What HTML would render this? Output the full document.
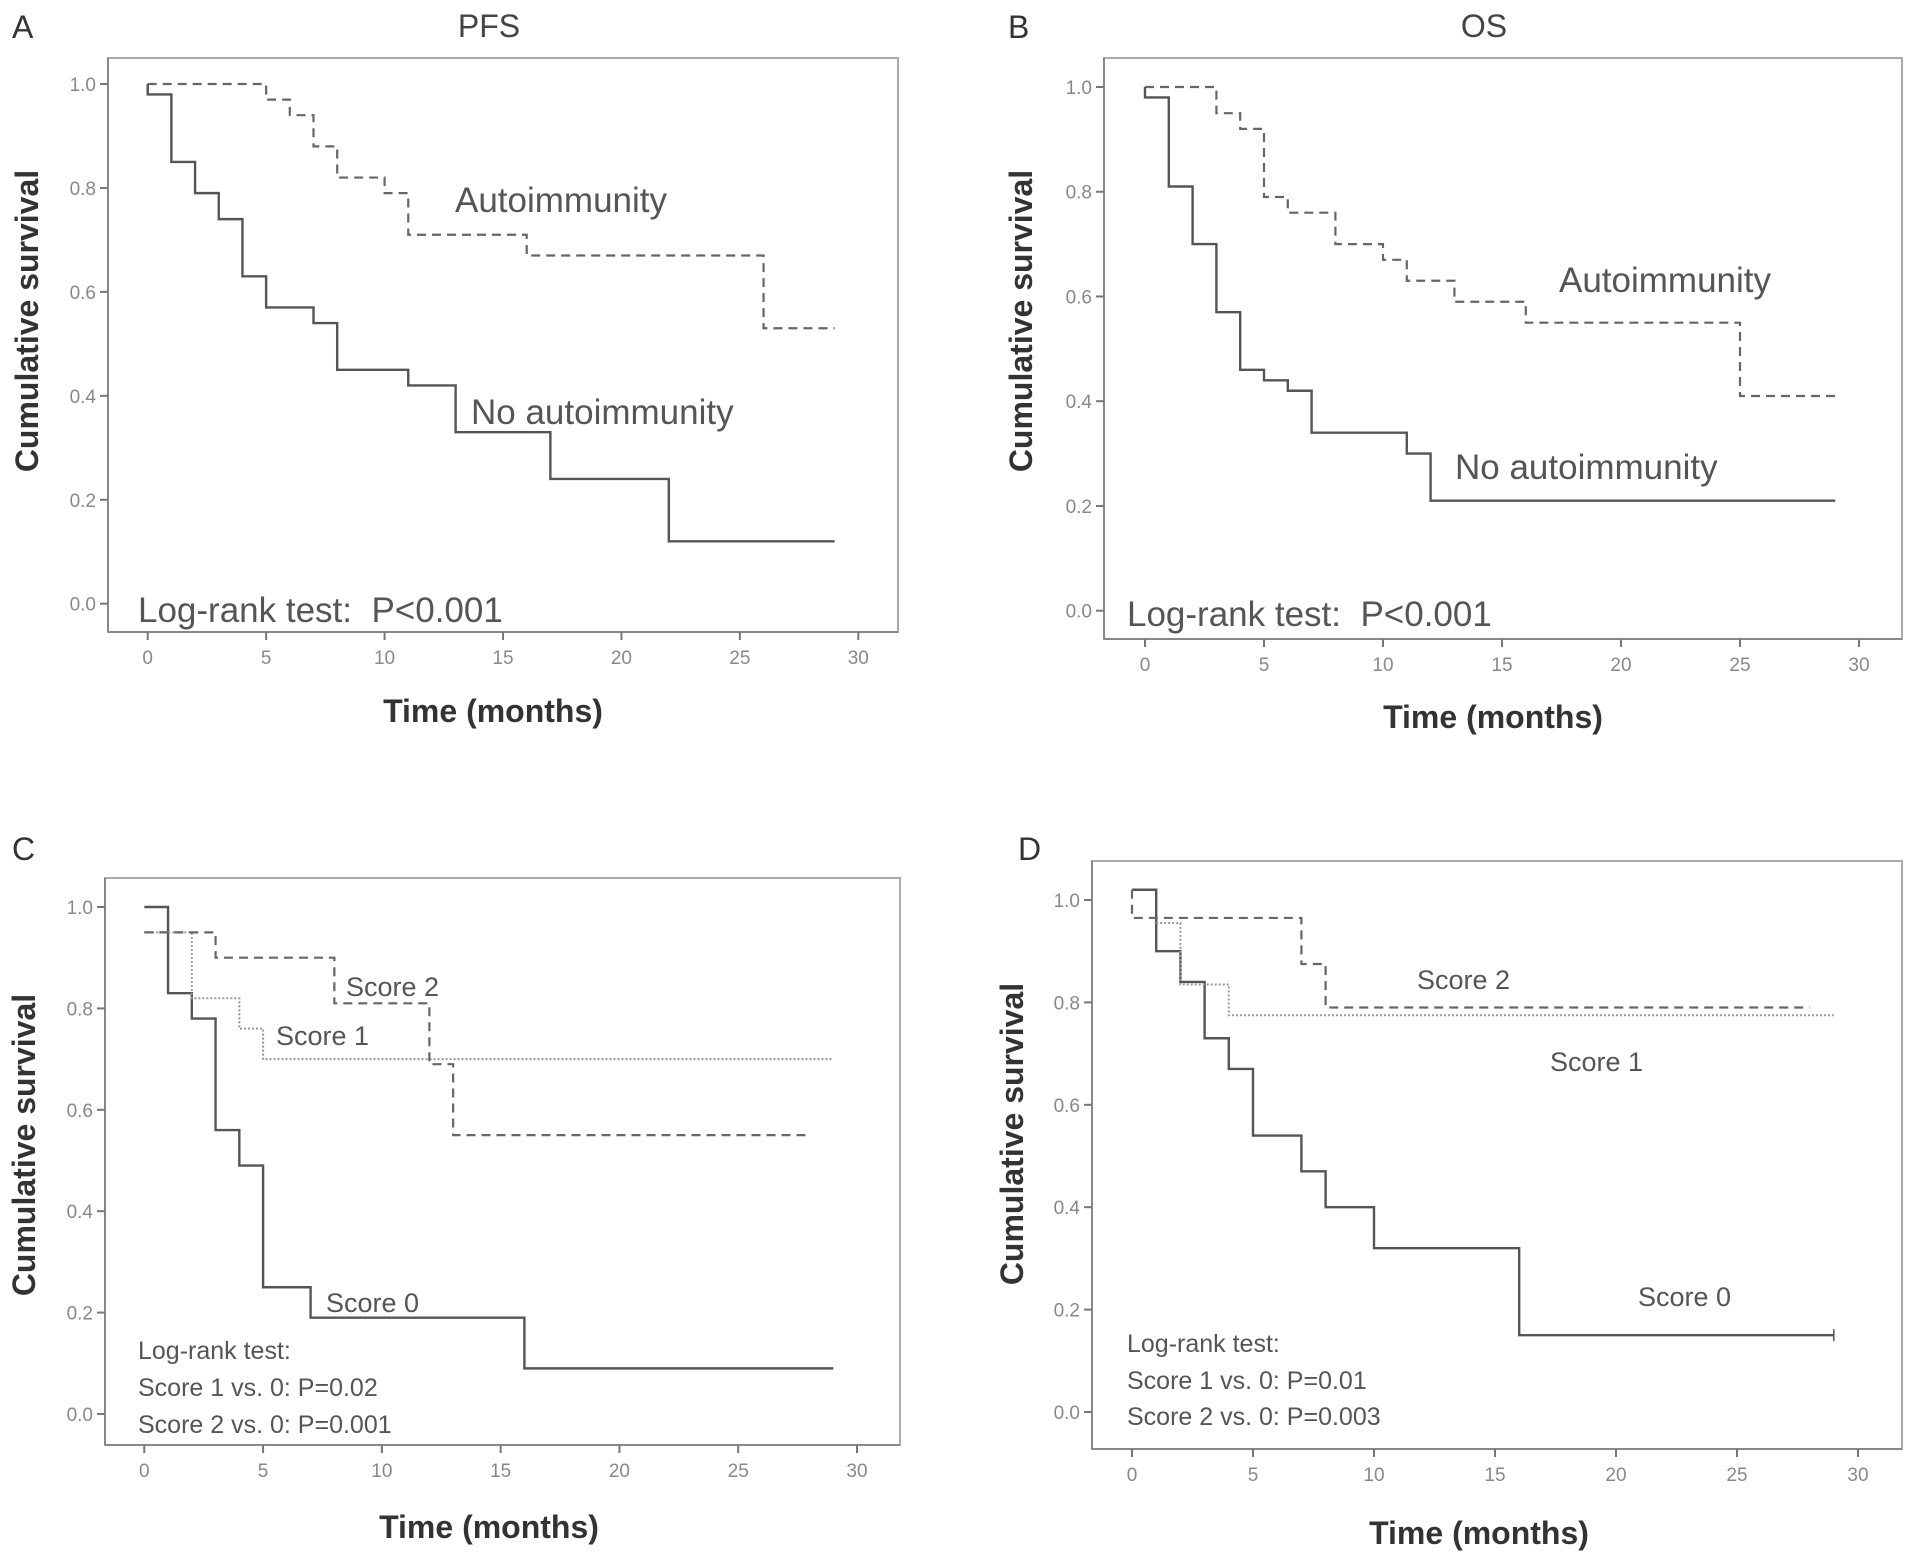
<!DOCTYPE html>
<html><head><meta charset="utf-8"><style>
body{margin:0;background:#fff;}
svg{display:block;font-family:"Liberation Sans",sans-serif;}
text{white-space:pre;}
</style></head><body>
<svg id="fig" width="1913" height="1561" viewBox="0 0 1913 1561"></svg>
<script>
// ---- data ----
const xTicks=[0,5,10,15,20,25,30];
const yTicks=[0.0,0.2,0.4,0.6,0.8,1.0];
const yTickLabels=["0.0","0.2","0.4","0.6","0.8","1.0"];
// Panel A PFS
const aAutoT=[0,5,6,7,8,10,11,16,26,29];
const aAutoS=[1.0,0.97,0.94,0.88,0.82,0.79,0.71,0.67,0.53,0.53];
const aNoT=[0,0,1,2,3,4,5,7,8,11,13,17,22,29];
const aNoS=[1.0,0.98,0.85,0.79,0.74,0.63,0.57,0.54,0.45,0.42,0.33,0.24,0.12,0.12];
// Panel B OS
const bAutoT=[0,3,4,5,6,8,10,11,13,16,25,29];
const bAutoS=[1.0,0.95,0.92,0.79,0.76,0.70,0.67,0.63,0.59,0.55,0.41,0.41];
const bNoT=[0,0,1,2,3,4,5,6,7,11,12,29];
const bNoS=[1.0,0.98,0.81,0.70,0.57,0.46,0.44,0.42,0.34,0.30,0.21,0.21];
// Panel C PFS by score
const c0T=[0,1,2,3,4,5,7,16,29];
const c0S=[1.0,0.83,0.78,0.56,0.49,0.25,0.19,0.09,0.09];
const c1T=[0,2,4,5,29];
const c1S=[0.95,0.82,0.76,0.70,0.70];
const c2T=[0,3,8,12,13,28];
const c2S=[0.95,0.90,0.81,0.69,0.55,0.55];
// Panel D OS by score
const d0T=[0,1,2,3,4,5,7,8,10,16,29];
const d0S=[1.02,0.90,0.84,0.73,0.67,0.54,0.47,0.40,0.32,0.15,0.15];
const d1T=[1,2,4,29];
const d1S=[0.955,0.835,0.775,0.775];
const d2T=[0,0,7,8,28];
const d2S=[1.02,0.965,0.875,0.79,0.79];

const NS="http://www.w3.org/2000/svg";
const svg=document.getElementById('fig');
function el(tag,attrs,parent){const e=document.createElementNS(NS,tag);for(const k in attrs)e.setAttribute(k,attrs[k]);(parent||svg).appendChild(e);return e;}
function txt(s,attrs,parent){const e=el('text',attrs,parent);e.textContent=s;return e;}

const styles={solid:{stroke:'#555','stroke-width':2.4},dashed:{stroke:'#666','stroke-width':2.2,'stroke-dasharray':'9,6'},dotted:{stroke:'#999','stroke-width':2,'stroke-dasharray':'2,2'}};

function panel(p){
  const g=el('g',{});
  
  
  const sx=t=>p.x0+(p.x30-p.x0)*t/30;
  const sy=v=>p.y0+(p.y1-p.y0)*v;
  const box=el('rect',{x:p.L,y:p.T,width:p.R-p.L,height:p.B-p.T,fill:'none',stroke:'#aaa','stroke-width':2},g);
  
  
  el('line',{x1:p.L,y1:p.T,x2:p.L,y2:p.B,stroke:'#888','stroke-width':2},g);
  el('line',{x1:p.L,y1:p.B,x2:p.R,y2:p.B,stroke:'#888','stroke-width':2},g);
  yTicks.forEach((v,i)=>{
    el('line',{x1:p.L-8,y1:sy(v),x2:p.L,y2:sy(v),stroke:'#777','stroke-width':2},g);
    const t=txt(yTickLabels[i],{x:p.L-12,y:sy(v)+7,'text-anchor':'end','font-size':19,fill:'#888'},g);
    
    
  });
  xTicks.forEach(v=>{
    el('line',{x1:sx(v),y1:p.B,x2:sx(v),y2:p.B+8,stroke:'#777','stroke-width':2},g);
    const t=txt(String(v),{x:sx(v),y:p.B+32,'text-anchor':'middle','font-size':19,fill:'#888'},g);
    
    
  });
  p.series.forEach(s=>{
    let d='M'+sx(s.t[0])+','+sy(s.s[0]);
    for(let i=1;i<s.t.length;i++){d+=' H'+sx(s.t[i])+' V'+sy(s.s[i]);}
    const path=el('path',Object.assign({d:d,fill:'none'},styles[s.style]),g);
    
    
    if(s.censor){const cx=sx(s.t[s.t.length-1]),cy=sy(s.s[s.s.length-1]);
      el('line',{x1:cx,y1:cy-6,x2:cx,y2:cy+6,stroke:'#555','stroke-width':1.5},g);}
  });
  const yt=txt('Cumulative survival',{x:0,y:0,transform:`translate(${p.ytx},${p.yty}) rotate(-90)`,'text-anchor':'middle','font-size':32,'font-weight':'bold',fill:'#333'},g);
  
  
  const xt=txt('Time (months)',{x:p.xtx,y:p.xty,'text-anchor':'middle','font-size':32,'font-weight':'bold',fill:'#333'},g);
  
  
  const lt=txt(p.letter,{x:p.lx,y:p.ly,'font-size':32,fill:'#333'},g);
  
  
  if(p.title){const tt=txt(p.title,{x:p.tx,y:37,'text-anchor':'middle','font-size':32,fill:'#444'},g);
    
    }
  p.labels.forEach(l=>{const a=txt(l[0],{x:l[1],y:l[2],'font-size':l[3]||35,fill:'#555'},g);
    
    });
}

panel({name:'panel-a-pfs',L:108,T:58,R:898,B:632,x0:147.7,x30:858.3,y0:603.7,y1:84,
  ytx:38,yty:321,xtx:493,xty:722,letter:'A',lx:12,ly:38,title:'PFS',tx:489,
  series:[{name:'autoimmunity-line',t:aAutoT,s:aAutoS,style:'dashed'},{name:'no-autoimmunity-line',t:aNoT,s:aNoS,style:'solid'}],
  labels:[['Autoimmunity',455,212],['No autoimmunity',471,424],['Log-rank test:  P<0.001',138,622]]});
panel({name:'panel-b-os',L:1104,T:58,R:1902,B:639,x0:1145,x30:1859,y0:610.7,y1:87,
  ytx:1032,yty:321,xtx:1493,xty:728,letter:'B',lx:1008,ly:38,title:'OS',tx:1484,
  series:[{name:'autoimmunity-line',t:bAutoT,s:bAutoS,style:'dashed'},{name:'no-autoimmunity-line',t:bNoT,s:bNoS,style:'solid'}],
  labels:[['Autoimmunity',1559,292],['No autoimmunity',1455,479],['Log-rank test:  P<0.001',1127,626]]});
panel({name:'panel-c-pfs-score',L:105,T:878,R:900,B:1445,x0:144.3,x30:857,y0:1414,y1:907,
  ytx:35,yty:1145,xtx:489,xty:1538,letter:'C',lx:12,ly:860,
  series:[{name:'score-0-line',t:c0T,s:c0S,style:'solid'},{name:'score-1-line',t:c1T,s:c1S,style:'dotted'},{name:'score-2-line',t:c2T,s:c2S,style:'dashed'}],
  labels:[['Score 2',346,996,27],['Score 1',276,1045,27],['Score 0',326,1312,27],['Log-rank test:',138,1359,25],['Score 1 vs. 0: P=0.02',138,1396,25],['Score 2 vs. 0: P=0.001',138,1433,25]]});
panel({name:'panel-d-os-score',L:1092,T:861,R:1902,B:1449,x0:1132,x30:1858,y0:1412,y1:900,
  ytx:1023,yty:1134,xtx:1479,xty:1544,letter:'D',lx:1018,ly:860,
  series:[{name:'score-0-line',t:d0T,s:d0S,style:'solid',censor:true},{name:'score-1-line',t:d1T,s:d1S,style:'dotted'},{name:'score-2-line',t:d2T,s:d2S,style:'dashed'}],
  labels:[['Score 2',1417,989,27],['Score 1',1550,1071,27],['Score 0',1638,1306,27],['Log-rank test:',1127,1352,25],['Score 1 vs. 0: P=0.01',1127,1389,25],['Score 2 vs. 0: P=0.003',1127,1425,25]]});
</script>
</body></html>
